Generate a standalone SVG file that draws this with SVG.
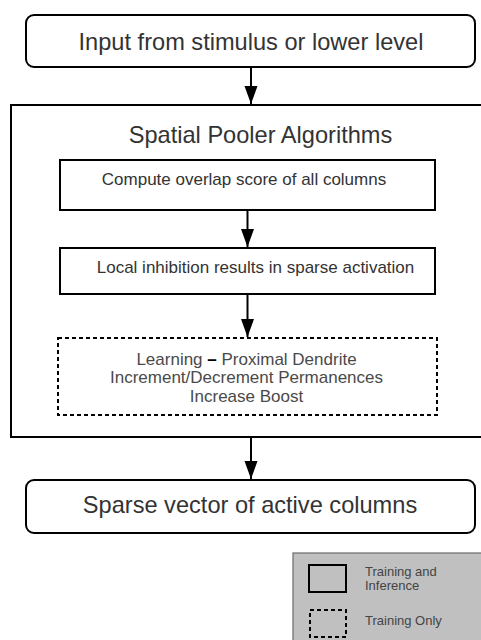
<svg xmlns="http://www.w3.org/2000/svg" width="481" height="640" viewBox="0 0 481 640">
  <style>
    .box { fill: #ffffff; stroke: #000000; stroke-width: 2; }
    .dash { fill: #ffffff; stroke: #000000; stroke-width: 2; stroke-dasharray: 4 3; }
    .big { font-family: "Liberation Sans", Arial, sans-serif; font-size: 23.6px; fill: #333333; text-anchor: middle; }
    .mid { font-family: "Liberation Sans", Arial, sans-serif; font-size: 17px; fill: #333333; text-anchor: middle; }
    .learn { font-family: "Liberation Sans", Arial, sans-serif; font-size: 17px; fill: #4a4a4a; text-anchor: middle; }
    .leg { font-family: "Liberation Sans", Arial, sans-serif; font-size: 13px; fill: #444444; }
    .conn { stroke: #000000; stroke-width: 2; fill: none; }
  </style>
  <defs>
    <marker id="head" markerUnits="userSpaceOnUse" markerWidth="14" markerHeight="19" refX="7" refY="18" orient="auto-start-reverse" viewBox="0 0 14 19">
      <path d="M0.5,0 L13.5,0 L7,18 Z" fill="#000000" transform="rotate(0)"/>
    </marker>
    <marker id="arrow" markerUnits="userSpaceOnUse" markerWidth="19" markerHeight="14" refX="18" refY="7" orient="auto" viewBox="0 0 19 14">
      <path d="M0,0.5 L18,7 L0,13.5 Z" fill="#000000"/>
    </marker>
  </defs>

  <rect width="481" height="640" fill="#ffffff"/>

  <g id="input">
    <rect class="box" x="26" y="15" width="449" height="52" rx="8"/>
    <text class="big" x="251" y="50">Input from stimulus or lower level</text>
  </g>

  <g id="spatial-pooler">
    <rect class="box" x="11" y="105" width="480" height="332"/>
    <text class="big" x="260.5" y="143">Spatial Pooler Algorithms</text>
  </g>

  <g id="overlap">
    <rect class="box" x="60" y="160" width="375" height="50"/>
    <text class="mid" x="244" y="185">Compute overlap score of all columns</text>
  </g>

  <g id="inhibition">
    <rect class="box" x="60" y="248" width="375" height="46"/>
    <text class="mid" x="255.5" y="273">Local inhibition results in sparse activation</text>
  </g>

  <g id="learning">
    <rect class="dash" x="58" y="338" width="379" height="77"/>
    <text class="learn" x="246.5" y="365">Learning <tspan fill="#000000" font-weight="bold">–</tspan> Proximal Dendrite</text>
    <text class="learn" x="246.5" y="383">Increment/Decrement Permanences</text>
    <text class="learn" x="246.5" y="402">Increase Boost</text>
  </g>

  <g id="output">
    <rect class="box" x="26" y="480" width="449" height="53" rx="8"/>
    <text class="big" x="250" y="513">Sparse vector of active columns</text>
  </g>

  <g id="legend">
    <rect x="293" y="553" width="195" height="95" fill="#c0c0c0" stroke="#6a6a6a" stroke-width="1.2"/>
    <rect x="309" y="565" width="37" height="27" fill="none" stroke="#000000" stroke-width="2"/>
    <text class="leg" x="365" y="576">Training and</text>
    <text class="leg" x="365" y="590">Inference</text>
    <rect x="310" y="610" width="36" height="27" fill="none" stroke="#000000" stroke-width="2" stroke-dasharray="4 3"/>
    <text class="leg" x="365" y="625">Training Only</text>
  </g>

  <g id="connectors">
    <line class="conn" x1="251" y1="67" x2="251" y2="104" marker-end="url(#arrow)"/>
    <line class="conn" x1="247.5" y1="210" x2="247.5" y2="247" marker-end="url(#arrow)"/>
    <line class="conn" x1="247.5" y1="294" x2="247.5" y2="337" marker-end="url(#arrow)"/>
    <line class="conn" x1="251" y1="437" x2="251" y2="479" marker-end="url(#arrow)"/>
  </g>
</svg>
